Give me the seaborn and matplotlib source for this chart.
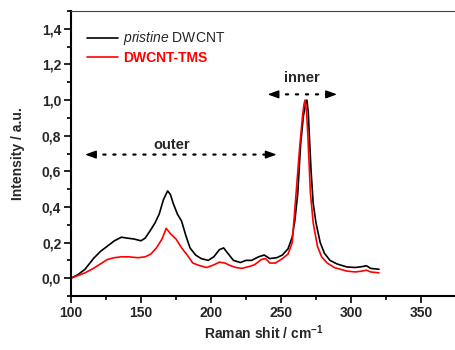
import numpy as np
import pandas as pd
import matplotlib
matplotlib.use("Agg")
import matplotlib.pyplot as plt
from matplotlib.ticker import MultipleLocator, FuncFormatter
import seaborn as sns

# ---- data ----
x_pristine = [100, 105, 110, 116, 121, 126, 131, 136, 140, 145, 150, 153, 156, 160,
              163, 166, 169, 171, 173, 176, 179, 182, 185, 189, 193, 198, 202, 206,
              209, 212, 216, 221, 225, 229, 234, 238, 242, 247, 251, 255, 258, 260,
              262, 264, 266, 267.5, 268.5, 269.5, 270.5, 271.5, 273, 275, 278, 281,
              285, 290, 297, 303, 308, 311, 314, 320]
y_pristine = [0.0, 0.02, 0.05, 0.11, 0.15, 0.18, 0.21, 0.23, 0.225, 0.22, 0.21, 0.225,
              0.26, 0.31, 0.36, 0.44, 0.49, 0.47, 0.42, 0.36, 0.32, 0.24, 0.17, 0.13,
              0.11, 0.10, 0.12, 0.16, 0.17, 0.14, 0.10, 0.088, 0.10, 0.10, 0.12, 0.13,
              0.11, 0.115, 0.13, 0.165, 0.23, 0.33, 0.48, 0.75, 0.91, 0.98, 1.0, 0.93,
              0.76, 0.6, 0.42, 0.31, 0.2, 0.14, 0.10, 0.08, 0.063, 0.06, 0.065, 0.07,
              0.055, 0.05]

x_tms = [100, 105, 110, 116, 121, 126, 131, 136, 141, 148, 153, 157, 161, 165, 168,
         171, 175, 179, 183, 187, 192, 197, 202, 206, 210, 214, 218, 222, 227, 231,
         236, 239, 242, 246, 251, 255, 258, 260.5, 263.5, 265.5, 266.5, 267.3, 268.3,
         269.3, 270.2, 271, 273, 276, 279, 283, 288, 297, 303, 308, 311, 314, 320]
y_tms = [0.0, 0.015, 0.03, 0.055, 0.08, 0.105, 0.115, 0.12, 0.12, 0.115, 0.12, 0.135,
         0.17, 0.22, 0.28, 0.25, 0.22, 0.17, 0.13, 0.085, 0.07, 0.06, 0.075, 0.09,
         0.085, 0.07, 0.06, 0.055, 0.065, 0.075, 0.105, 0.11, 0.085, 0.085, 0.11,
         0.135, 0.2, 0.45, 0.75, 0.92, 0.98, 1.0, 0.93, 0.78, 0.62, 0.48, 0.31, 0.18,
         0.12, 0.085, 0.06, 0.04, 0.035, 0.04, 0.045, 0.035, 0.03]

series_labels = ["pristine DWCNT", "DWCNT-TMS"]
x_ticks = [100, 150, 200, 250, 300, 350]
y_ticks = [0.0, 0.2, 0.4, 0.6, 0.8, 1.0, 1.2, 1.4]

# ---- style ----
sns.set_theme(style="ticks")
plt.rcParams["font.family"] = ["Liberation Sans", "DejaVu Sans"]
plt.rcParams["mathtext.fontset"] = "custom"
plt.rcParams["mathtext.rm"] = "Liberation Sans"
plt.rcParams["mathtext.it"] = "Liberation Sans:italic"
plt.rcParams["mathtext.bf"] = "Liberation Sans:bold"

fig = plt.figure(figsize=(4.56, 3.5), dpi=100)
ax = fig.add_axes([71 / 456, 1 - 296 / 350, (456 - 71) / 456, (296 - 11) / 350])

df1 = pd.DataFrame({"x": x_pristine, "y": y_pristine})
df2 = pd.DataFrame({"x": x_tms, "y": y_tms})
sns.lineplot(data=df1, x="x", y="y", ax=ax, color="black", lw=1.2, sort=False,
             label=r"$\it{pristine}$ DWCNT")
sns.lineplot(data=df2, x="x", y="y", ax=ax, color="#ff0000", lw=1.2, sort=False,
             label=series_labels[1])

ax.set_xlim(100, 375)
ax.set_ylim(-0.1, 1.5)
ax.set_xticks(x_ticks)
ax.set_yticks(y_ticks)
ax.xaxis.set_minor_locator(MultipleLocator(25))
ax.yaxis.set_minor_locator(MultipleLocator(0.1))
ax.yaxis.set_major_formatter(FuncFormatter(lambda v, p: f"{v:.1f}".replace(".", ",")))
ax.tick_params(which="major", direction="out", length=5, width=1.2, labelsize=10,
               pad=2, color="black")
ax.tick_params(which="minor", direction="out", length=3, width=1.2, color="black")
for lab in ax.get_xticklabels() + ax.get_yticklabels():
    lab.set_fontweight("bold")

for s in ["left", "bottom"]:
    ax.spines[s].set_linewidth(1.5)
    ax.spines[s].set_color("black")
ax.spines["top"].set_linewidth(0.8)
ax.spines["top"].set_color("#444444")
ax.spines["right"].set_visible(False)

ax.set_xlabel(r"Raman shit / cm$^{\mathbf{-1}}$", fontsize=10, fontweight="bold", labelpad=3)
ax.set_ylabel("Intensity / a.u.", fontsize=10, fontweight="bold", labelpad=12)

leg = ax.legend(loc="upper left", bbox_to_anchor=(0.028, 0.955), frameon=False,
                fontsize=10, handlelength=2.2, handletextpad=0.35, labelspacing=0.25,
                borderaxespad=0.0)
texts = leg.get_texts()
texts[1].set_color("#ff0000")
texts[1].set_fontweight("bold")


def dotted_arrow(x0, x1, y):
    # dotted shaft
    ax.annotate("", xy=(x1, y), xytext=(x0, y),
                arrowprops=dict(arrowstyle="-", ls=(0, (1, 3.5)), lw=1.6,
                                color="black", shrinkA=6, shrinkB=6))
    # solid heads at both ends
    d = 6.0
    for tip, back in ((x0, x0 + d), (x1, x1 - d)):
        ax.annotate("", xy=(tip, y), xytext=(back, y),
                    arrowprops=dict(arrowstyle="-|>,head_length=0.55,head_width=0.2",
                                    lw=1.0, color="black", shrinkA=0, shrinkB=0))


dotted_arrow(110, 246.9, 0.694)
ax.text(171.9, 0.747, "outer", ha="center", va="center", fontsize=10.5, fontweight="bold")
dotted_arrow(240.4, 290, 1.032)
ax.text(265, 1.124, "inner", ha="center", va="center", fontsize=10.5, fontweight="bold")

fig.savefig("out.png", dpi=100)
